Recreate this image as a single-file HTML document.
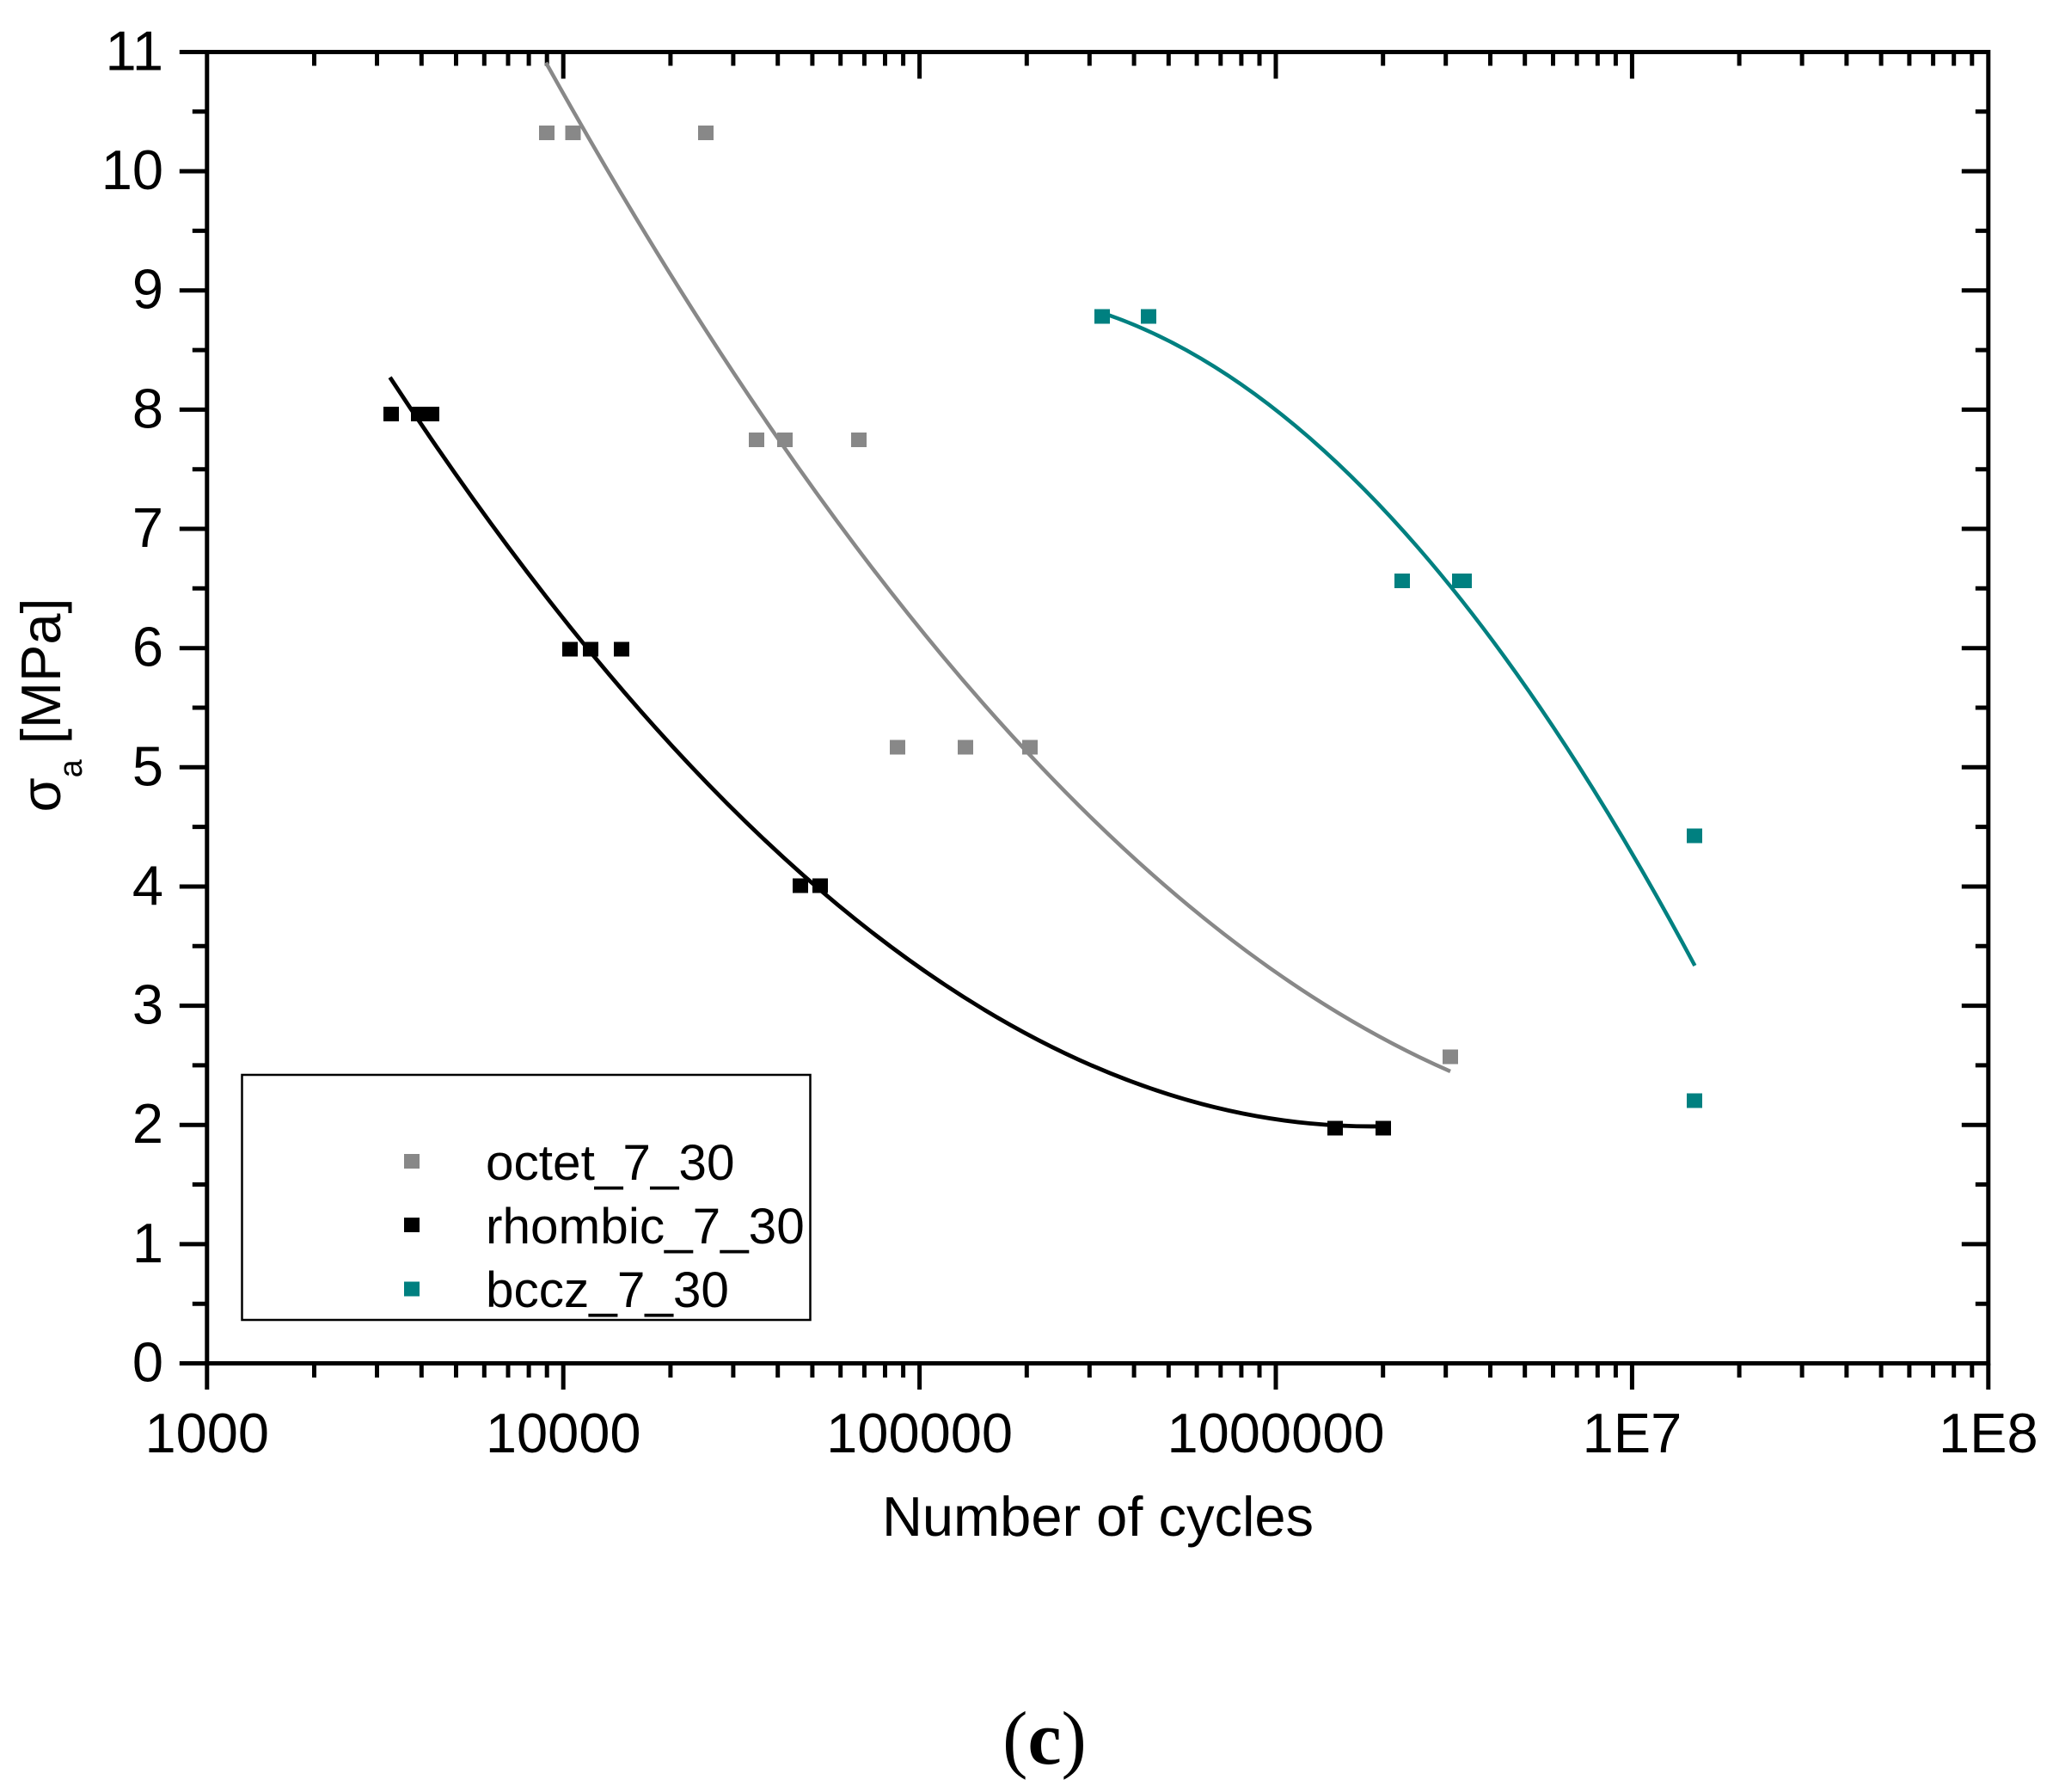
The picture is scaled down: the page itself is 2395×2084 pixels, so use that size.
<!DOCTYPE html>
<html>
<head>
<meta charset="utf-8">
<style>
html,body{margin:0;padding:0;background:#fff;}
svg{display:block;}
text{font-family:"Liberation Sans",Arial,sans-serif;fill:#000;}
</style>
</head>
<body>
<svg width="2395" height="2084" viewBox="0 0 2395 2084" xmlns="http://www.w3.org/2000/svg">
<rect x="0" y="0" width="2395" height="2084" fill="#fff"/>

<!-- axes frame -->
<g stroke="#000" stroke-width="5" fill="none">
<rect x="240.8" y="60.5" width="2072" height="1525"/>
</g>

<!-- ticks -->
<g stroke="#000" stroke-width="5">
<path d="M240.8,1585.5V1616M655.2,1585.5V1616M1069.6,1585.5V1616M1484,1585.5V1616M1898.4,1585.5V1616M2312.8,1585.5V1616"/>
<path d="M365.5,1585.5V1602M438.5,1585.5V1602M490.3,1585.5V1602M530.5,1585.5V1602M563.3,1585.5V1602M591,1585.5V1602M615.1,1585.5V1602M636.2,1585.5V1602
M779.9,1585.5V1602M852.9,1585.5V1602M904.7,1585.5V1602M944.9,1585.5V1602M977.7,1585.5V1602M1005.4,1585.5V1602M1029.5,1585.5V1602M1050.6,1585.5V1602
M1194.3,1585.5V1602M1267.3,1585.5V1602M1319.1,1585.5V1602M1359.3,1585.5V1602M1392.1,1585.5V1602M1419.8,1585.5V1602M1443.9,1585.5V1602M1465,1585.5V1602
M1608.7,1585.5V1602M1681.7,1585.5V1602M1733.5,1585.5V1602M1773.7,1585.5V1602M1806.5,1585.5V1602M1834.2,1585.5V1602M1858.3,1585.5V1602M1879.4,1585.5V1602
M2023.1,1585.5V1602M2096.1,1585.5V1602M2147.9,1585.5V1602M2188.1,1585.5V1602M2220.9,1585.5V1602M2248.6,1585.5V1602M2272.7,1585.5V1602M2293.8,1585.5V1602"/>
<path d="M655.2,60.5V91.5M1069.6,60.5V91.5M1484,60.5V91.5M1898.4,60.5V91.5"/>
<path d="M365.5,60.5V76.5M438.5,60.5V76.5M490.3,60.5V76.5M530.5,60.5V76.5M563.3,60.5V76.5M591,60.5V76.5M615.1,60.5V76.5M636.2,60.5V76.5
M779.9,60.5V76.5M852.9,60.5V76.5M904.7,60.5V76.5M944.9,60.5V76.5M977.7,60.5V76.5M1005.4,60.5V76.5M1029.5,60.5V76.5M1050.6,60.5V76.5
M1194.3,60.5V76.5M1267.3,60.5V76.5M1319.1,60.5V76.5M1359.3,60.5V76.5M1392.1,60.5V76.5M1419.8,60.5V76.5M1443.9,60.5V76.5M1465,60.5V76.5
M1608.7,60.5V76.5M1681.7,60.5V76.5M1733.5,60.5V76.5M1773.7,60.5V76.5M1806.5,60.5V76.5M1834.2,60.5V76.5M1858.3,60.5V76.5M1879.4,60.5V76.5
M2023.1,60.5V76.5M2096.1,60.5V76.5M2147.9,60.5V76.5M2188.1,60.5V76.5M2220.9,60.5V76.5M2248.6,60.5V76.5M2272.7,60.5V76.5M2293.8,60.5V76.5"/>
<path d="M208.8,1585.5H240.8M208.8,1446.9H240.8M208.8,1308.2H240.8M208.8,1169.6H240.8M208.8,1031H240.8M208.8,892.3H240.8M208.8,753.7H240.8M208.8,615H240.8M208.8,476.4H240.8M208.8,337.7H240.8M208.8,199.1H240.8M208.8,60.5H240.8"/>
<path d="M223.8,1516.2H240.8M223.8,1377.5H240.8M223.8,1238.9H240.8M223.8,1100.3H240.8M223.8,961.6H240.8M223.8,823H240.8M223.8,684.3H240.8M223.8,545.7H240.8M223.8,407.1H240.8M223.8,268.4H240.8M223.8,129.8H240.8"/>
<path d="M2281.8,1446.9H2312.8M2281.8,1308.2H2312.8M2281.8,1169.6H2312.8M2281.8,1031H2312.8M2281.8,892.3H2312.8M2281.8,753.7H2312.8M2281.8,615H2312.8M2281.8,476.4H2312.8M2281.8,337.7H2312.8M2281.8,199.1H2312.8"/>
<path d="M2297.8,1516.2H2312.8M2297.8,1377.5H2312.8M2297.8,1238.9H2312.8M2297.8,1100.3H2312.8M2297.8,961.6H2312.8M2297.8,823H2312.8M2297.8,684.3H2312.8M2297.8,545.7H2312.8M2297.8,407.1H2312.8M2297.8,268.4H2312.8M2297.8,129.8H2312.8"/>
</g>

<!-- y tick labels -->
<g font-size="65" text-anchor="end">
<text x="190" y="1606.5">0</text>
<text x="190" y="1467.9">1</text>
<text x="190" y="1329.2">2</text>
<text x="190" y="1190.6">3</text>
<text x="190" y="1052">4</text>
<text x="190" y="913.3">5</text>
<text x="190" y="774.7">6</text>
<text x="190" y="636">7</text>
<text x="190" y="497.4">8</text>
<text x="190" y="358.7">9</text>
<text x="190" y="220.1">10</text>
<text x="190" y="81.5">11</text>
</g>

<!-- x tick labels -->
<g font-size="65" text-anchor="middle">
<text x="240.8" y="1689">1000</text>
<text x="655.2" y="1689">10000</text>
<text x="1069.6" y="1689">100000</text>
<text x="1484" y="1689">1000000</text>
<text x="1898.4" y="1689">1E7</text>
<text x="2312.8" y="1689">1E8</text>
</g>

<!-- axis titles -->
<text x="1277" y="1786" font-size="65" text-anchor="middle">Number of cycles</text>
<text transform="translate(70,820) rotate(-90)" font-size="65" text-anchor="middle">σ<tspan font-size="38" dy="25">a</tspan><tspan dy="-25"> [MPa]</tspan></text>

<!-- curves -->
<path d="M635,72.8 Q1161,1016.1 1687,1245.9" fill="none" stroke="#888888" stroke-width="4.5"/>
<path d="M453.6,438.8 Q1031.8,1321 1610,1309.8" fill="none" stroke="#000" stroke-width="4.8"/>
<path d="M1276.5,362 Q1623.95,473.9 1971.4,1123" fill="none" stroke="#008080" stroke-width="4.5"/>

<!-- octet markers -->
<g fill="#888888">
<rect x="627" y="146" width="18" height="17"/>
<rect x="657.5" y="146" width="18" height="17"/>
<rect x="812" y="146" width="18" height="17"/>
<rect x="871" y="503" width="18" height="17"/>
<rect x="904" y="503" width="18" height="17"/>
<rect x="990" y="503" width="18" height="17"/>
<rect x="1035" y="860.5" width="18" height="17"/>
<rect x="1114" y="860.5" width="18" height="17"/>
<rect x="1189" y="860.5" width="18" height="17"/>
<rect x="1678" y="1220.5" width="18" height="17"/>
</g>

<!-- rhombic markers -->
<g fill="#000">
<rect x="446" y="473" width="18" height="17"/>
<rect x="478" y="473" width="18" height="17"/>
<rect x="493" y="473" width="18" height="17"/>
<rect x="654" y="746.5" width="18" height="17"/>
<rect x="678" y="746.5" width="18" height="17"/>
<rect x="714" y="746.5" width="18" height="17"/>
<rect x="922" y="1021.5" width="18" height="17"/>
<rect x="945" y="1021.5" width="18" height="17"/>
<rect x="1544" y="1303.5" width="18" height="17"/>
<rect x="1600" y="1303.5" width="18" height="17"/>
</g>

<!-- bccz markers -->
<g fill="#008080">
<rect x="1273" y="359.5" width="18" height="17"/>
<rect x="1327" y="359.5" width="18" height="17"/>
<rect x="1622" y="667" width="18" height="17"/>
<rect x="1689" y="667" width="18" height="17"/>
<rect x="1694" y="667" width="18" height="17"/>
<rect x="1962" y="963.5" width="18" height="17"/>
<rect x="1962" y="1271.5" width="18" height="17"/>
</g>

<!-- legend -->
<rect x="281.5" y="1250" width="661" height="285" fill="none" stroke="#000" stroke-width="2.5"/>
<rect x="470" y="1342" width="18" height="17" fill="#888888"/>
<rect x="470" y="1416" width="18" height="17" fill="#000"/>
<rect x="470" y="1490.5" width="18" height="17" fill="#008080"/>
<g font-size="58.5">
<text x="565" y="1372">octet_7_30</text>
<text x="565" y="1446">rhombic_7_30</text>
<text x="565" y="1520">bccz_7_30</text>
</g>

<!-- caption -->
<text x="1215" y="2051" font-size="88" text-anchor="middle" style="font-family:'Liberation Serif','Times New Roman',serif">(<tspan font-weight="bold">c</tspan>)</text>
</svg>
</body>
</html>
